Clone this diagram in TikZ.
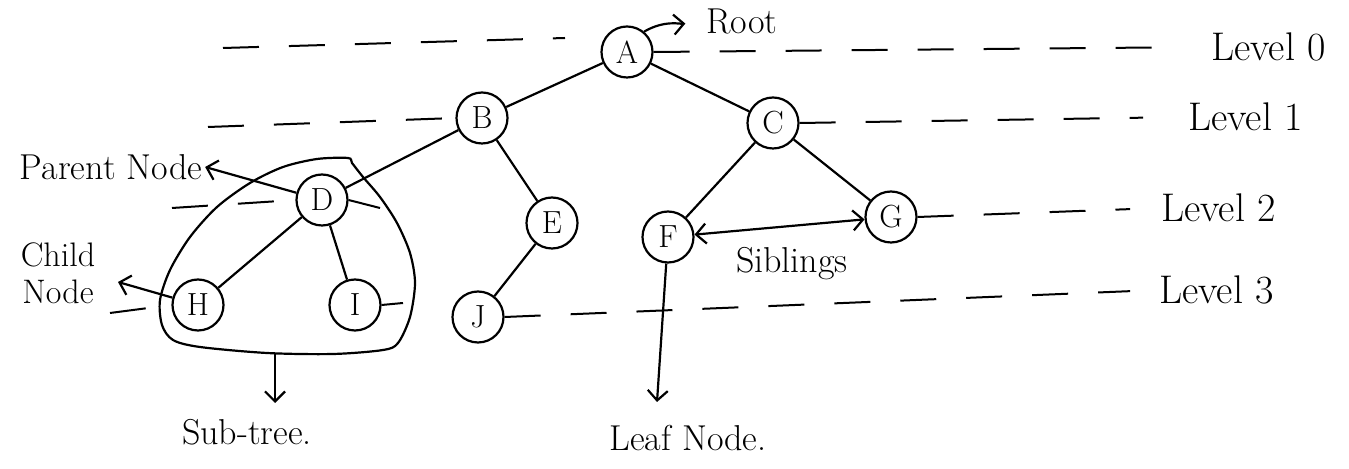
\documentclass[tikz,border=0pt]{standalone}
\usetikzlibrary{arrows.meta}
\begin{document}
\begin{tikzpicture}[x=0.5pt,y=-0.5pt,line width=1.1pt,
  tn/.style={circle,draw,minimum size=25.5pt,inner sep=0pt,font=\fontsize{16}{18}\selectfont},
  lvl/.style={dash pattern=on 18pt off 15pt,line width=1pt},
  lbl/.style={font=\fontsize{18}{22}\selectfont,inner sep=1pt},
  lvllbl/.style={font=\fontsize{20}{24}\selectfont,anchor=west,inner sep=0pt},
  arr/.style={-{Straight Barb[length=5pt,width=10pt]}},
  dbl/.style={{Straight Barb[length=5pt,width=10pt]}-{Straight Barb[length=5pt,width=10pt]}}
]
\useasboundingbox (0,0) rectangle (1349,469);

% tree nodes
\node[tn] (A) at (627,52) {A};
\node[tn] (B) at (482,118) {B};
\node[tn] (C) at (773,123) {C};
\node[tn] (D) at (322,200) {D};
\node[tn] (E) at (552,223) {E};
\node[tn] (F) at (668,237) {F};
\node[tn] (G) at (891,217) {G};
\node[tn] (H) at (198,305) {H};
\node[tn] (I) at (355,305) {I};
\node[tn] (J) at (478,317) {J};

% labels
\node[lbl] (root) at (742,22) {Root};
\node[lvllbl] (l0) at (1210,47) {Level 0};
\node[lvllbl] (l1) at (1187,117) {Level 1};
\node[lvllbl] (l2) at (1160,208) {Level 2};
\node[lvllbl] (l3) at (1158,290) {Level 3};
\node[lbl] (parent) at (111,167) {Parent Node};
\node[lbl,align=center,font=\fontsize{17}{18.5}\selectfont] (child) at (58,273) {Child\\Node};
\node[lbl] (sib) at (792,264) {Siblings};
\node[lbl] (subtree) at (247,432) {Sub-tree.};
\node[lbl] (leaf) at (688,438) {Leaf Node.};

% edges
\draw (A) -- (B);
\draw (A) -- (C);
\draw (B) -- (D);
\draw (B) -- (E);
\draw (C) -- (F);
\draw (C) -- (G);
\draw (D) -- (H);
\draw (D) -- (I);
\draw (E) -- (J);

% annotation arrows
\draw[arr,shorten >=9pt] (A.50) to[out=30,in=185] (root.west);
\draw[arr] (D) -- (parent.east);
\coordinate (childtip) at (118,282);
\draw[arr] (H) -- (childtip);
\draw[dbl] (F) -- (G);
\coordinate (leaftip) at (657,402);
\draw[arr] (F) -- (leaftip);
\coordinate (subtop) at (275,354);
\coordinate (subtip) at (275,403);
\draw[arr] (subtop) -- (subtip);

% sub-tree loop
\draw plot[smooth cycle,tension=0.5] coordinates {
  (348,158) (317,159) (283,167) (250,183) (217,207) (190,237) (170,270)
  (160,300) (162,325) (173,340) (200,347) (267,353) (333,354) (383,350)
  (398,343) (410,317) (415,283) (410,253) (397,223) (380,197) (363,177)
  (352,163)};

% level lines
\coordinate (l0a) at (223,48);
\coordinate (l0b) at (565,38);
\draw[lvl] (l0a) -- (l0b);
\draw[lvl,shorten >=22pt] (A.east) -- (l0.west);
\coordinate (l1a) at (208,127);
\draw[lvl] (l1a) -- (B.west);
\draw[lvl,shorten >=22pt] (C.east) -- (l1.west);
\coordinate (l2a) at (172,208);
\coordinate (l2b) at (380,208);
\draw[lvl] (l2a) -- (D.west);
\draw[lvl] (D.east) -- (l2b);
\draw[lvl,shorten >=15pt] (G.east) -- (l2.west);
\coordinate (l3a) at (110,313);
\coordinate (l3b) at (403,303);
\draw[lvl] (l3a) -- (H.west);
\draw[lvl] (I.east) -- (l3b);
\draw[lvl,shorten >=14pt] (J.east) -- (l3.west);
\end{tikzpicture}
\end{document}
